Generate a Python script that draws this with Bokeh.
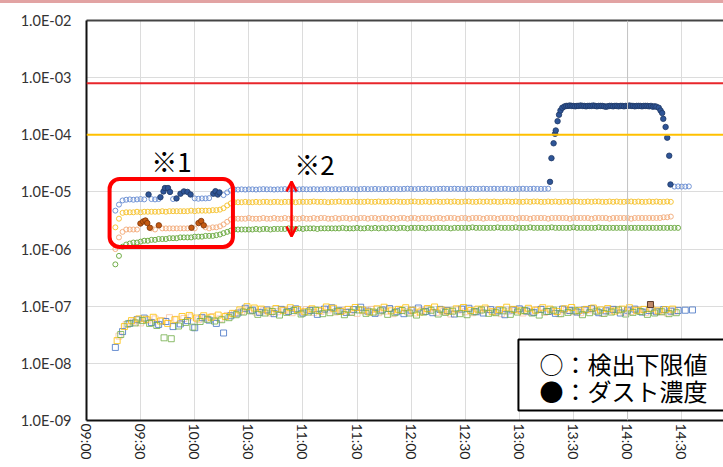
import math

from bokeh.embed import file_html
from bokeh.layouts import column
from bokeh.models import (Arrow, BoxAnnotation, ColumnDataSource, CustomJSTickFormatter,
                          Div, FixedTicker, Label, LinearAxis, OpenHead, Range1d, Span)
from bokeh.plotting import figure
from bokeh.resources import INLINE

nan = float("nan")

# ---------------------------------------------------------------- axes
x_tick_minutes = [0, 30, 60, 90, 120, 150, 180, 210, 240, 270, 300, 330]   # minutes after 09:00
x_tick_labels = ["09:00", "09:30", "10:00", "10:30", "11:00", "11:30",
                 "12:00", "12:30", "13:00", "13:30", "14:00", "14:30"]
y_ticks = [1e-9, 1e-8, 1e-7, 1e-6, 1e-5, 1e-4, 1e-3, 1e-2]
y_tick_labels = ["1.0E-09", "1.0E-08", "1.0E-07", "1.0E-06",
                 "1.0E-05", "1.0E-04", "1.0E-03", "1.0E-02"]

# reference levels
red_limit = 8.0e-4
yellow_limit = 1.0e-4

# ------------------------------------------- detection lower limits (x1e-6)
# sampled every 2 minutes; NaN where a measured concentration is plotted instead
limit_start = 16
limit_step = 2

blue_limit = [
    4.7, 6.0, 7.1, 7.3, 7.4, 7.3, 7.4, 7.5, 7.4, nan,
    7.5, 7.4, 7.5, nan, nan, nan, 7.5, nan, nan, nan,
    nan, nan, 7.7, 7.6, 7.7, 7.7, 7.8, nan, nan, nan,
    8.8, 9.8, 10.6, 11.0,
    11.0, 11.1, 11.0, 11.1, 11.1, 11.0, 11.1, 11.2, 11.1, 11.1,
    11.0, 11.1, 11.1, 11.2, 11.1, 11.1, 11.0, 11.1, 11.2, 11.1,
    11.1, 11.2, 11.1, 11.1, 11.2, 11.2, 11.1, 11.2, 11.1, 11.2,
    11.3, 11.2, 11.2, 11.1, 11.2, 11.3, 11.2, 11.2, 11.3, 11.2,
    11.2, 11.3, 11.2, 11.3, 11.3, 11.2, 11.3, 11.4, 11.3, 11.2,
    11.3, 11.3, 11.4, 11.3, 11.2, 11.3, 11.3, 11.4, 11.3, 11.3,
    11.4, 11.3, 11.3, 11.2, 11.3, 11.4, 11.3, 11.3, 11.4, 11.3,
    11.3, 11.4, 11.3, 11.3, 11.4, 11.3, 11.2, 11.3, 11.3, 11.4,
    11.3, 11.3, 11.4, 11.3, 11.3, 11.3, 11.4,
]
blue_limit_tail_start = 326
blue_limit_tail = [12.4, 12.5, 12.4, 12.4, 12.5]

gold_limit = [
    2.4, 3.4, 4.3, 4.4, 4.4, 4.4, 4.5, 4.4, 4.5, 4.5,
    4.5, 4.5, 4.5, 4.6, 4.5, 4.6, 4.6, 4.6, 4.6, 4.6,
    4.6, 4.7, 4.6, 4.7, 4.7, 4.7, 4.7, 4.8, 4.8, 4.9,
    5.2, 5.8, 6.3, 6.6,
    6.6, 6.6, 6.7, 6.6, 6.6, 6.7, 6.6, 6.7, 6.7, 6.6,
    6.7, 6.7, 6.6, 6.7, 6.7, 6.7, 6.6, 6.7, 6.7, 6.7,
    6.7, 6.8, 6.7, 6.7, 6.7, 6.6, 6.7, 6.7, 6.8, 6.7,
    6.7, 6.7, 6.8, 6.7, 6.7, 6.7, 6.8, 6.7, 6.7, 6.8,
    6.7, 6.7, 6.8, 6.7, 6.8, 6.7, 6.7, 6.7, 6.8, 6.8,
    6.7, 6.7, 6.8, 6.7, 6.7, 6.8, 6.7, 6.7, 6.8, 6.7,
    6.8, 6.7, 6.7, 6.8, 6.8, 6.7, 6.7, 6.8, 6.7, 6.8,
    6.7, 6.8, 6.7, 6.7, 6.8, 6.8, 6.7, 6.8, 6.7, 6.7,
    6.8, 6.7, 6.8, 6.8, 6.7, 6.7, 6.8, 6.7, 6.8, 6.7,
    6.7, 6.8, 6.7, 6.8, 6.8, 6.7, 6.7, 6.8, 6.7, 6.8,
    6.8, 6.7, 6.7, 6.8, 6.7, 6.8, 6.7, 6.7, 6.8, 6.8,
    6.7, 6.8, 6.7, 6.7, 6.8, 6.7, 6.8, 6.7, 6.7, 6.8,
    6.7,
]

salmon_limit = [
    1.0, 1.6, 2.0, 2.2, 2.2, 2.2, 2.2, nan, nan, nan,
    2.3, 2.2, nan, 2.3, 2.3, 2.3, 2.3, 2.3, 2.3, 2.3,
    2.3, nan, 2.3, nan, nan, 2.4, 2.3, 2.4, 2.4, 2.5,
    2.7, 3.0, 3.3, 3.4,
    3.4, 3.4, 3.4, 3.5, 3.4, 3.4, 3.4, 3.5, 3.4, 3.4,
    3.5, 3.4, 3.4, 3.5, 3.4, 3.5, 3.4, 3.4, 3.5, 3.4,
    3.4, 3.5, 3.4, 3.5, 3.5, 3.4, 3.4, 3.5, 3.4, 3.5,
    3.5, 3.4, 3.5, 3.4, 3.5, 3.5, 3.4, 3.5, 3.5, 3.4,
    3.5, 3.5, 3.4, 3.5, 3.4, 3.5, 3.5, 3.4, 3.5, 3.5,
    3.4, 3.5, 3.5, 3.5, 3.4, 3.5, 3.5, 3.4, 3.5, 3.5,
    3.5, 3.4, 3.5, 3.5, 3.4, 3.5, 3.5, 3.5, 3.4, 3.5,
    3.5, 3.5, 3.4, 3.5, 3.5, 3.5, 3.5, 3.4, 3.5, 3.5,
    3.5, 3.4, 3.5, 3.5, 3.5, 3.5, 3.4, 3.5, 3.5, 3.5,
    3.5, 3.5, 3.4, 3.5, 3.5, 3.5, 3.5, 3.5, 3.4, 3.5,
    3.5, 3.5, 3.5, 3.4, 3.5, 3.5, 3.5, 3.5, 3.5, 3.4,
    3.5, 3.5, 3.5, 3.5, 3.5, 3.5, 3.5,
    3.5, 3.6, 3.6, 3.7,
]

green_limit = [
    0.54, 0.76, 1.1, 1.2, 1.25, 1.3, 1.3, 1.35, 1.4, 1.4,
    1.45, 1.45, 1.5, 1.5, 1.5, 1.55, 1.55, 1.55, 1.6, 1.6,
    1.6, 1.6, 1.65, 1.65, 1.65, 1.7, 1.7, 1.7, 1.75, 1.8,
    1.9, 2.0, 2.1, 2.2,
    2.2, 2.2, 2.2, 2.2, 2.2, 2.25, 2.2, 2.25, 2.25, 2.2,
    2.25, 2.25, 2.25, 2.25, 2.3, 2.25, 2.25, 2.3, 2.25, 2.3,
    2.3, 2.3, 2.25, 2.3, 2.3, 2.3, 2.3, 2.3, 2.3, 2.35,
    2.3, 2.3, 2.3, 2.35, 2.3, 2.3, 2.35, 2.3, 2.35, 2.3,
    2.35, 2.3, 2.35, 2.35, 2.3, 2.35, 2.35, 2.3, 2.35, 2.35,
    2.35, 2.35, 2.3, 2.35, 2.35, 2.35, 2.35, 2.35, 2.35, 2.3,
    2.35, 2.35, 2.35, 2.35, 2.35, 2.4, 2.35, 2.35, 2.35, 2.35,
    2.35, 2.35, 2.4, 2.35, 2.35, 2.35, 2.35, 2.4, 2.35, 2.35,
    2.35, 2.4, 2.35, 2.35, 2.35, 2.35, 2.35, 2.4, 2.35, 2.35,
    2.35, 2.35, 2.35, 2.4, 2.35, 2.35, 2.35, 2.35, 2.35, 2.35,
    2.4, 2.35, 2.35, 2.35, 2.35, 2.35, 2.35, 2.35, 2.35, 2.35,
    2.35, 2.35, 2.35, 2.35, 2.35, 2.35, 2.35, 2.35, 2.35, 2.35,
    2.35, 2.35, 2.35,
]

# ------------------------------------ background channel (x1e-8), every 4 min
blue_bg_start = 16
blue_bg = [
    1.9, 3.6, 5.0, 5.8, 6.2, 5.2, 4.8, 5.4, 4.4, 4.9,
    5.6, 4.2, 6.3, 5.7, 5.0, 3.4, 6.8, 7.6, 9.2, 8.5,
    7.8, 8.6, 7.4, 8.8, 8.1, 9.0, 7.6, 8.4, 7.2, 8.9,
    9.4, 8.3, 7.8, 8.7, 9.6, 8.2, 7.5, 8.6, 9.1, 8.0,
    7.4, 8.5, 9.3, 8.1, 7.7, 8.8, 8.4, 7.3, 8.9, 9.2,
    8.0, 7.6, 8.7, 8.3, 7.1, 8.6, 9.0, 8.2, 7.8, 8.8,
    8.1, 7.5, 8.9, 8.4, 7.9, 8.6, 9.1, 7.7, 8.3, 8.8,
    7.6, 8.5, 8.9, 7.9, 8.4, 8.0, 8.7, 8.2, 8.4, 8.5,
    8.6,
]
gold_bg_start = 17
gold_bg = [
    2.5, 4.4, 5.6, 6.0, 5.9, 6.4, 5.5, 5.0, 5.8, 6.6,
    6.9, 6.2, 6.8, 6.4, 7.0, 6.6, 7.5, 8.6, 9.8, 9.3,
    8.9, 8.2, 9.1, 8.5, 9.4, 8.7, 8.0, 9.0, 8.4, 9.7,
    9.2, 8.1, 8.8, 9.5, 8.6, 7.9, 9.0, 9.6, 8.3, 8.8,
    9.4, 8.5, 7.9, 9.1, 9.7, 8.6, 8.2, 9.0, 9.5, 8.4,
    8.9, 9.3, 8.0, 8.7, 9.6, 8.8, 8.3, 9.2, 8.5, 9.4,
    8.9, 8.1, 9.0, 9.5, 8.4, 8.8, 9.3, 8.6, 9.1, 8.2,
    8.9, 9.4, 8.5, 8.8, 9.2, 8.3, 8.7, 8.9,
]
salmon_bg_start = 18
salmon_bg = [
    3.0, 4.8, 5.3, 5.1, 5.7, 6.0, 5.6, 6.3, 5.9, 6.1,
    6.5, 5.8, 6.2, 6.6, 6.0, 6.9, 7.4, 8.1, 8.6, 7.9,
    8.3, 7.6, 8.0, 8.5, 7.7, 8.2, 8.7, 7.8, 8.1, 8.6,
    7.9, 8.4, 8.0, 7.5, 8.3, 8.8, 7.7, 8.2, 7.4, 8.5,
    8.0, 7.6, 8.4, 8.9, 7.8, 8.1, 7.3, 8.6, 8.0, 7.7,
    8.3, 8.8, 7.9, 7.4, 8.2, 8.5, 7.6, 8.0, 8.7, 7.8,
    8.1, 7.4, 8.4, 8.0, 7.7, 8.6, 8.2, 7.5, 8.3, 8.8,
    7.9, 8.1, 8.6, 7.8, 8.4, 8.0, 7.6, 8.2,
]
green_bg_start = 19
green_bg = [
    3.2, 4.9, 5.1, 5.6, 5.0, 4.6, 2.8, 2.7, 4.5, 5.2,
    4.3, 5.4, 5.9, 5.5, 5.8, 6.3, 7.1, 7.9, 8.3, 7.2,
    7.6, 8.1, 7.0, 7.8, 8.4, 7.3, 7.9, 8.5, 7.4, 7.7,
    8.2, 7.1, 7.8, 8.6, 7.5, 7.9, 8.3, 7.2, 7.7, 8.4,
    7.6, 7.0, 7.9, 8.5, 7.3, 7.8, 8.2, 7.4, 7.1, 8.0,
    8.6, 7.5, 7.7, 8.3, 7.2, 7.9, 8.4, 7.6, 7.0, 8.1,
    8.5, 7.4, 7.8, 8.3, 7.1, 7.7, 8.2, 7.5, 7.9, 8.6,
    7.3, 7.8, 8.1, 7.2, 7.6, 8.0, 7.4, 7.7,
]
bg_step = 4
bg_dust_minute = [312.7]
bg_dust_value = [1.07e-7]

# ------------------------------------------------ measured dust concentration
blue_dust_minute = [34.4, 41.0, 42.7, 43.5, 45.2, 46.3, 49.9, 52.1, 54.0, 56.0,
                    57.7, 70.3, 71.5, 72.8, 73.7]
blue_dust_value = [9.0e-6, 8.1e-6, 1.02e-5, 1.17e-5, 1.17e-5, 1.0e-5, 7.7e-6, 9.3e-6,
                   1.02e-5, 1.0e-5, 9.0e-6, 9.3e-6, 1.03e-5, 9.0e-6, 9.8e-6]

orange_dust_minute = [29.9, 31.4, 32.7, 33.7, 35.1, 40.1, 58.2, 62.1, 63.6, 65.0]
orange_dust_value = [2.8e-6, 3.03e-6, 3.16e-6, 2.85e-6, 2.36e-6, 2.6e-6,
                     2.36e-6, 2.85e-6, 3.1e-6, 2.6e-6]

# high episode 13:17 - 14:24
rise_minute = [257.0, 257.8, 259.0, 259.8, 260.2, 261.2, 262.0, 262.8, 263.8, 265.0]
rise_value = [1.5e-5, 3.9e-5, 7.1e-5, 1.04e-4, 1.19e-4, 1.73e-4, 2.24e-4, 2.66e-4,
              2.97e-4, 3.13e-4]
plateau_start = 266
plateau_value_e4 = [
    3.2, 3.2, 3.25, 3.2, 3.2, 3.15, 3.2, 3.2, 3.25, 3.2,
    3.2, 3.15, 3.2, 3.2, 3.2, 3.25, 3.2, 3.15, 3.2, 3.2,
    3.2, 3.15, 3.1, 3.15, 3.2, 3.2, 3.15, 3.2, 3.2, 3.15,
    3.2, 3.2, 3.15, 3.2, 3.2, 3.25, 3.2, 3.2, 3.15, 3.2,
    3.2, 3.2, 3.15, 3.2, 3.2, 3.2, 3.15, 3.2, 3.1, 3.15,
    3.1,
]
fall_minute = [317.3, 318.3, 319.2, 319.8, 321.1, 322.0, 323.1, 323.8]
fall_value = [2.97e-4, 2.66e-4, 2.4e-4, 1.9e-4, 1.37e-4, 8.9e-5, 4.3e-5, 1.35e-5]


def series(start, step, values, scale):
    minutes = [start + step * i for i in range(len(values))]
    return ColumnDataSource(dict(x=minutes, y=[v * scale for v in values]))


CJK = "Noto Sans CJK JP"
LATIN = "Lato"

p = figure(width=723, height=464, x_range=Range1d(0, 353.2), y_range=Range1d(1e-9, 1e-2),
           y_axis_type="log", output_backend="svg", toolbar_location=None,
           min_border_left=86, min_border_right=0, min_border_top=17, min_border_bottom=47,
           background_fill_color="white", border_fill_color="white")
p.outline_line_color = None

# grid
p.xgrid.ticker = FixedTicker(ticks=x_tick_minutes)
p.xgrid.grid_line_color = "#dcdcdc"
p.ygrid.grid_line_color = "#dcdcdc"
p.add_layout(Span(location=300, dimension="height", line_color="#c4c4c4", line_width=1))

# x axis
xa = p.xaxis[0]
xa.ticker = FixedTicker(ticks=x_tick_minutes)
xa.formatter = CustomJSTickFormatter(
    args=dict(tick_values=x_tick_minutes, tick_names=x_tick_labels), code="""
    const i = tick_values.findIndex(t => Math.abs(t - tick) < 1e-6);
    return i >= 0 ? tick_names[i] : '';
""")
xa.major_label_orientation = -math.pi / 2
xa.major_label_text_font = LATIN
xa.major_label_text_font_size = "14px"
xa.major_label_text_color = "#222222"
xa.major_label_standoff = 3
xa.major_tick_in = 0
xa.major_tick_out = 0
xa.major_tick_line_color = None
xa.minor_tick_line_color = None
xa.axis_line_color = "#111111"
xa.axis_line_width = 2

# y axis
ya = p.yaxis[0]
ya.ticker = FixedTicker(ticks=y_ticks)
ya.formatter = CustomJSTickFormatter(
    args=dict(tick_values=y_ticks, tick_names=y_tick_labels), code="""
    const i = tick_values.findIndex(t => Math.abs(Math.log10(t) - Math.log10(tick)) < 1e-6);
    return i >= 0 ? tick_names[i] : '';
""")
ya.major_label_text_font = LATIN
ya.major_label_text_font_size = "14.5px"
ya.major_label_text_color = "#333333"
ya.major_label_standoff = 15
ya.major_tick_in = 0
ya.major_tick_out = 0
ya.major_tick_line_color = None
ya.minor_tick_line_color = None
ya.axis_line_color = "#111111"
ya.axis_line_width = 2

# upper frame edge
top = LinearAxis(ticker=FixedTicker(ticks=[]), major_label_text_font_size="0px",
                 major_tick_line_color=None, minor_tick_line_color=None,
                 major_tick_in=0, major_tick_out=0,
                 major_label_standoff=0, axis_line_color="#444444", axis_line_width=2)
p.add_layout(top, "above")

# reference levels
p.add_layout(Span(location=red_limit, dimension="width", line_color="#E8262B", line_width=2))
p.add_layout(Span(location=yellow_limit, dimension="width", line_color="#FFC000", line_width=2))

# background channel (open squares)
for start, vals, color in [(salmon_bg_start, salmon_bg, "#F6C3A3"),
                           (blue_bg_start, blue_bg, "#4472C4"),
                           (gold_bg_start, gold_bg, "#FFC000"),
                           (green_bg_start, green_bg, "#70AD47")]:
    p.scatter("x", "y", source=series(start, bg_step, vals, 1e-8), marker="square",
              size=6, fill_color=None, line_color=color, line_width=1, line_alpha=0.8)
p.scatter(bg_dust_minute, bg_dust_value, marker="square", size=6,
          fill_color="#C08A6A", line_color="#5A3A28", line_width=1)

# detection lower limits (open circles)
for start, vals, color in [(limit_start, green_limit, "#70AD47"),
                           (limit_start, salmon_limit, "#F4B183"),
                           (limit_start, gold_limit, "#F7C639"),
                           (limit_start, blue_limit, "#7395D6"),
                           (blue_limit_tail_start, blue_limit_tail, "#7395D6")]:
    p.scatter("x", "y", source=series(start, limit_step, vals, 1e-6), marker="circle",
              size=5, fill_color=None, line_color=color, line_width=1)

# measured concentrations (filled circles)
p.scatter(orange_dust_minute, orange_dust_value, marker="circle", size=5.5,
          fill_color="#C55A11", line_color="#7A3408", line_width=0.8)
p.scatter(blue_dust_minute, blue_dust_value, marker="circle", size=5.5,
          fill_color="#2F5597", line_color="#1F3864", line_width=0.8)
plateau_minute = [plateau_start + i for i in range(len(plateau_value_e4))]
peak_x = rise_minute + plateau_minute + fall_minute
peak_y = rise_value + [v * 1e-4 for v in plateau_value_e4] + fall_value
p.scatter(peak_x, peak_y, marker="circle", size=5.5,
          fill_color="#2F5597", line_color="#1F3864", line_width=0.8)

# annotations
p.add_layout(BoxAnnotation(left=12.8, right=81.2, top=1.68e-5, bottom=1.09e-6,
                           fill_color=None, fill_alpha=0, line_color="#FF0000",
                           line_alpha=1, line_width=4, border_radius=10))
p.add_layout(Label(x=47.1, y=3.55e-5, text="※1", text_font=CJK, text_font_size="26px",
                   text_align="center", text_baseline="middle", text_color="black"))
p.add_layout(Label(x=126.4, y=3.14e-5, text="※2", text_font=CJK, text_font_size="26px",
                   text_align="center", text_baseline="middle", text_color="black"))
p.add_layout(Arrow(start=OpenHead(size=10, line_color="#FF0000", line_width=2.5),
                   end=OpenHead(size=10, line_color="#FF0000", line_width=2.5),
                   x_start=113.7, y_start=1.52e-5, x_end=113.7, y_end=1.66e-6,
                   line_color="#FF0000", line_width=2.5))

# key
p.add_layout(BoxAnnotation(left=239.5, right=360, top=2.61e-8, bottom=1.5e-9,
                           fill_color="white", fill_alpha=1, line_color="black",
                           line_alpha=1, line_width=2))
p.add_layout(Label(x=251.2, y=1.01e-8, text="○：検出下限値", text_font=CJK,
                   text_font_size="24px", text_baseline="middle", text_color="black"))
p.add_layout(Label(x=251.2, y=3.41e-9, text="●：ダスト濃度", text_font=CJK,
                   text_font_size="24px", text_baseline="middle", text_color="black"))

band = Div(text="", width=723, height=3, margin=0,
           styles={"background-color": "#E2A3A3", "overflow": "hidden"})
page = column(band, p, spacing=0, margin=0)

open("out.html", "w").write(file_html(page, INLINE))
